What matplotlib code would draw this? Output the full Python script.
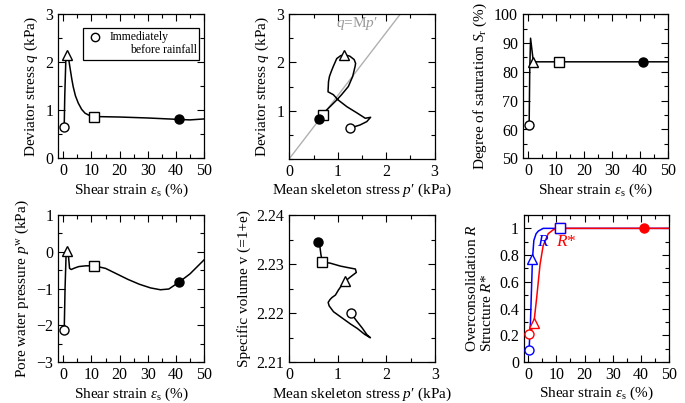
import matplotlib
matplotlib.use("Agg")
import matplotlib.pyplot as plt
from matplotlib.ticker import MultipleLocator, FixedLocator
from matplotlib.patches import Rectangle

plt.rcParams['font.family'] = ['Liberation Serif', 'DejaVu Serif']
plt.rcParams['mathtext.fontset'] = 'custom'
plt.rcParams['mathtext.rm'] = 'Liberation Serif'
plt.rcParams['mathtext.it'] = 'Liberation Serif:italic'
plt.rcParams['mathtext.fallback'] = 'stix'
plt.rcParams['font.size'] = 11

# --- data ---
# (a) deviator stress vs shear strain
eps_q = [0.3, 0.5, 0.9, 1.4, 1.8, 2.3, 3.0, 3.5, 4.3, 5.3, 6.5, 7.7, 9.0, 11, 20, 30, 41, 45, 50]
q_eps = [0.65, 1.3, 2.1, 2.2, 2.1, 1.91, 1.65, 1.49, 1.3, 1.15, 1.02, 0.94, 0.9, 0.87, 0.86, 0.84, 0.81, 0.80, 0.82]
mk_q = {'o': (0.3, 0.65), '^': (1.4, 2.15), 's': (11, 0.87), 'f': (41, 0.81)}

# (b) stress path p'-q
p_path = [1.26, 1.33, 1.46, 1.60, 1.68, 1.57, 1.40, 1.19, 1.01, 0.91, 0.80, 0.81, 0.83, 0.87, 0.91, 0.98, 1.06, 1.14,
          1.25, 1.34, 1.37, 1.36, 1.31, 1.22, 1.08, 0.98, 0.84, 0.74, 0.69, 0.62]
q_path = [0.64, 0.66, 0.70, 0.77, 0.86, 0.84, 0.95, 1.08, 1.22, 1.33, 1.39, 1.60, 1.71, 1.82, 1.92, 2.08, 2.14, 2.16,
          2.13, 2.06, 1.98, 1.92, 1.71, 1.50, 1.33, 1.22, 1.08, 0.98, 0.91, 0.82]
mk_pq = {'o': (1.26, 0.64), '^': (1.14, 2.16), 's': (0.69, 0.90), 'f': (0.62, 0.82)}
M_csl = 1.31

# (c) degree of saturation
eps_sr = [0.4, 0.6, 0.9, 1.9, 11, 41, 50]
sr = [61.6, 80, 91.7, 83.5, 83.5, 83.5, 83.5]
mk_sr = {'o': (0.4, 61.6), '^': (1.9, 83.5), 's': (11.2, 83.5), 'f': (41, 83.5)}

# (d) pore water pressure
eps_pw = [0.3, 0.6, 1.0, 1.4, 1.8, 2.2, 2.8, 4.0, 5.5, 8.0, 11, 15, 19, 23, 27, 31, 34.5, 37.5, 41, 45, 50]
pw = [-2.15, -1.0, 0.0, 0.05, -0.1, -0.45, -0.48, -0.44, -0.40, -0.38, -0.38, -0.45, -0.6, -0.75, -0.88,
      -0.98, -1.03, -1.01, -0.83, -0.6, -0.22]
mk_pw = {'o': (0.2, -2.12), '^': (1.4, 0.03), 's': (11, -0.38), 'f': (41, -0.83)}

# (e) specific volume vs p'
p_v = [1.27, 1.38, 1.50, 1.60, 1.67, 1.55, 1.40, 1.26, 1.05, 0.91, 0.82, 0.80, 0.84, 0.88, 0.95, 1.01, 1.08,
       1.15, 1.26, 1.38, 1.36, 1.20, 1.05, 0.84, 0.68, 0.65, 0.62]
v = [2.2200, 2.2185, 2.2170, 2.2156, 2.2150, 2.2157, 2.2169, 2.2178, 2.2193, 2.2203, 2.2215, 2.2222, 2.2228,
     2.2232, 2.2237, 2.2247, 2.2257, 2.2265, 2.2274, 2.2283, 2.2290, 2.2293, 2.2296, 2.2302, 2.2304, 2.2320, 2.2344]
mk_v = {'o': (1.27, 2.2200), '^': (1.14, 2.2265), 's': (0.68, 2.2304), 'f': (0.60, 2.2345)}

# (f) overconsolidation R and structure R*
eps_R = [0.3, 0.8, 1.5, 2.0, 2.8, 3.6, 5.3, 11, 50]
R = [0.09, 0.30, 0.77, 0.91, 0.96, 0.98, 1.0, 1.0, 1.0]
eps_Rs = [0.3, 1.2, 2.0, 3.0, 4.2, 5.3, 7.1, 8.9, 11, 41, 50]
Rs = [0.21, 0.24, 0.29, 0.48, 0.73, 0.87, 0.96, 0.99, 1.0, 1.0, 1.0]
mk_R = {'o': (0.3, 0.09), '^': (1.5, 0.77), 's': (11.2, 1.0)}
mk_Rs = {'o': (0.3, 0.21), '^': (2.0, 0.29), 's': (11.2, 1.0), 'f': (41, 1.0)}

W, H = 685, 403
fig = plt.figure(figsize=(W / 100, H / 100), dpi=100)


def make_ax(left, top, right, bottom):
    return fig.add_axes([left / W, 1 - bottom / H, (right - left) / W, (bottom - top) / H])


def style(ax):
    ax.tick_params(which='both', direction='in', top=True, right=True, labelsize=11.5)
    ax.tick_params(which='major', length=5, width=0.8)
    ax.tick_params(which='minor', length=3, width=0.8)
    for s in ax.spines.values():
        s.set_linewidth(0.9)


def markers(ax, mk, color='black'):
    for key, (x, y) in mk.items():
        if key == 'f':
            ax.plot(x, y, 'o', ms=6.5, mew=1.0, mfc=color, mec=color, zorder=5)
        else:
            ax.plot(x, y, key, ms=6.5, mew=1.0, mfc='white', mec=color, zorder=5)


eps_label = r'Shear strain $\varepsilon_{\rm s}$ (%)'
p_label = "Mean skeleton stress $p$\u2032 (kPa)"
XPAD = 1.5

# (a)
ax1 = make_ax(58.3, 14.3, 204, 158.3)
ax1.plot(eps_q, q_eps, color='black', lw=1.1)
markers(ax1, mk_q)
ax1.set_xlim(-1.8, 50)
ax1.set_ylim(0, 3)
ax1.xaxis.set_major_locator(MultipleLocator(10))
ax1.xaxis.set_minor_locator(MultipleLocator(5))
ax1.yaxis.set_major_locator(MultipleLocator(1))
ax1.yaxis.set_minor_locator(MultipleLocator(0.5))
ax1.set_xlabel(eps_label, labelpad=XPAD)
ax1.set_ylabel(r'Deviator stress $q$ (kPa)')
style(ax1)
ax1.add_patch(Rectangle((0.172, 0.683), 0.796, 0.22, transform=ax1.transAxes,
                        fill=False, lw=0.9, ec='black', zorder=6))
ax1.plot(0.252, 0.84, 'o', transform=ax1.transAxes, ms=6, mfc='white', mec='black', mew=1.0, zorder=7)
ax1.text(0.355, 0.84, 'Immediately', transform=ax1.transAxes, fontsize=8.5, va='center', ha='left')
ax1.text(0.955, 0.752, 'before rainfall', transform=ax1.transAxes, fontsize=8.5, va='center', ha='right')

# (b)
ax2 = make_ax(289.3, 14.3, 434.5, 158.7)
ax2.plot([0, 3 / M_csl], [0, 3], color='#b0b0b0', lw=1.0)
ax2.text(1.39, 2.8, "$q$=M$p$\u2032", color='#999999', fontsize=11, ha='center', va='center')
ax2.plot(p_path, q_path, color='black', lw=1.1)
markers(ax2, mk_pq)
ax2.set_xlim(0, 3)
ax2.set_ylim(0, 3)
ax2.xaxis.set_major_locator(MultipleLocator(1))
ax2.xaxis.set_minor_locator(MultipleLocator(0.5))
ax2.yaxis.set_major_locator(FixedLocator([1, 2, 3]))
ax2.yaxis.set_minor_locator(MultipleLocator(0.5))
ax2.set_xlabel(p_label, labelpad=XPAD)
ax2.set_ylabel(r'Deviator stress $q$ (kPa)')
style(ax2)

# (c)
ax3 = make_ax(523, 14.3, 668, 158.3)
ax3.plot(eps_sr, sr, color='black', lw=1.1)
markers(ax3, mk_sr)
ax3.set_xlim(-1.8, 50)
ax3.set_ylim(50, 100)
ax3.xaxis.set_major_locator(MultipleLocator(10))
ax3.xaxis.set_minor_locator(MultipleLocator(5))
ax3.yaxis.set_major_locator(MultipleLocator(10))
ax3.yaxis.set_minor_locator(MultipleLocator(5))
ax3.set_xlabel(eps_label, labelpad=XPAD)
ax3.set_ylabel(r'Degree of saturation $S_{\rm r}$ (%)')
style(ax3)

# (d)
ax4 = make_ax(58.3, 215, 204, 362.3)
ax4.plot(eps_pw, pw, color='black', lw=1.1)
markers(ax4, mk_pw)
ax4.set_xlim(-1.8, 50)
ax4.set_ylim(-3, 1)
ax4.xaxis.set_major_locator(MultipleLocator(10))
ax4.xaxis.set_minor_locator(MultipleLocator(5))
ax4.yaxis.set_major_locator(MultipleLocator(1))
ax4.yaxis.set_minor_locator(MultipleLocator(0.5))
ax4.set_xlabel(eps_label, labelpad=XPAD)
ax4.set_ylabel(r'Pore water pressure $p^{\rm w}$ (kPa)')
style(ax4)

# (e)
ax5 = make_ax(289.3, 215, 435, 362.3)
ax5.plot(p_v, v, color='black', lw=1.1)
markers(ax5, mk_v)
ax5.set_xlim(0, 3)
ax5.set_ylim(2.21, 2.24)
ax5.xaxis.set_major_locator(MultipleLocator(1))
ax5.xaxis.set_minor_locator(MultipleLocator(0.5))
ax5.yaxis.set_major_locator(MultipleLocator(0.01))
ax5.yaxis.set_minor_locator(MultipleLocator(0.005))
ax5.set_xlabel(p_label, labelpad=XPAD)
ax5.set_ylabel('Specific volume v (=1+e)')
style(ax5)

# (f)
ax6 = make_ax(524, 215, 669, 362)
ax6.plot(eps_R, R, color='blue', lw=1.1)
ax6.plot(eps_Rs, Rs, color='red', lw=1.1)
markers(ax6, mk_Rs, color='red')
markers(ax6, mk_R, color='blue')
ax6.text(5.2, 0.9, r'$R$', color='blue', fontsize=12.5, ha='center', va='center')
ax6.text(13.5, 0.9, r'$R$*', color='red', fontsize=12.5, ha='center', va='center')
ax6.set_xlim(-1.5, 50)
ax6.set_ylim(0, 1.1)
ax6.xaxis.set_major_locator(MultipleLocator(10))
ax6.xaxis.set_minor_locator(MultipleLocator(5))
ax6.yaxis.set_major_locator(FixedLocator([0, 0.2, 0.4, 0.6, 0.8, 1.0]))
ax6.yaxis.set_minor_locator(MultipleLocator(0.1))
ax6.set_yticklabels(['0', '0.2', '0.4', '0.6', '0.8', '1'])
ax6.set_xlabel(eps_label, labelpad=XPAD)
ax6.set_ylabel('Overconsolidation $R$\nStructure $R$*', multialignment='left', linespacing=1.1)
style(ax6)

fig.savefig('out.png', dpi=100, facecolor='white')
